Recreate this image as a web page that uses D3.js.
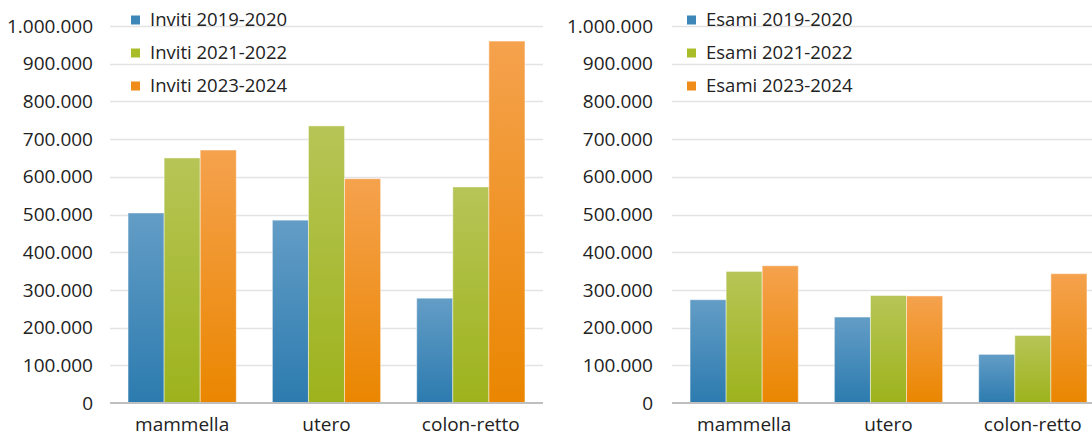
<!DOCTYPE html>
<html><head><meta charset="utf-8">
<script src="https://cdn.jsdelivr.net/npm/d3@7"></script>
<style>body{margin:0;background:#fff}svg{display:block}</style>
</head><body>
<svg id="c" width="1092" height="437"></svg>
<script>
const categories = ["mammella", "utero", "colon-retto"];
const yTicks = [0,100000,200000,300000,400000,500000,600000,700000,800000,900000,1000000];
const invitiSeries = ["Inviti 2019-2020", "Inviti 2021-2022", "Inviti 2023-2024"];
const inviti2019 = [504000, 485000, 278000];
const inviti2021 = [650000, 735000, 573000];
const inviti2023 = [671000, 595000, 960000];
const esamiSeries = ["Esami 2019-2020", "Esami 2021-2022", "Esami 2023-2024"];
const esami2019 = [274000, 228000, 129000];
const esami2021 = [349000, 285000, 179000];
const esami2023 = [364000, 284000, 343000];

const svg = d3.select("#c");
const FONT = "'Open Sans', sans-serif";
const grads = [["#639dc6","#2c7baf"],["#b6c556","#9db31c"],["#f5a24e","#ea8600"]];
const legendCols = ["#3d86b8","#a9bd2a","#f08c1a"];
const defs = svg.append("defs");
grads.forEach((g,i)=>{
  const lg = defs.append("linearGradient").attr("id","g"+i).attr("x1",0).attr("y1",0).attr("x2",0).attr("y2",1);
  lg.append("stop").attr("offset","0%").attr("stop-color",g[0]);
  lg.append("stop").attr("offset","100%").attr("stop-color",g[1]);
});
const fmt = v => v===0 ? "0" : d3.format(",")(v).replace(/,/g,".");

function chart(x0, x1, labelX, legendX, names, values){
  const y = d3.scaleLinear().domain([0,1000000]).range([403,26]);
  const x = d3.scaleBand().domain(categories).range([x0,x1]).paddingInner(0.25).paddingOuter(0.125);
  const xs = d3.scaleBand().domain([0,1,2]).range([0,x.bandwidth()]);
  const g = svg.append("g");
  g.selectAll(".grid").data(yTicks.filter(d=>d>0)).join("line")
    .attr("x1",x0).attr("x2",x1).attr("y1",d=>Math.round(y(d))+0.5).attr("y2",d=>Math.round(y(d))+0.5)
    .attr("stroke","#e3e3e3").attr("stroke-width",1.5);
  g.selectAll(".yl").data(yTicks).join("text")
    .attr("x",labelX).attr("y",d=>y(d)).attr("dy","0.35em").attr("text-anchor","end")
    .attr("font-family",FONT).attr("font-size",19).attr("fill","#222").text(fmt);
  values.forEach((vals,si)=>{
    g.selectAll(".b"+si).data(vals).join("rect")
      .attr("x",(d,i)=>x(categories[i])+xs(si)).attr("width",xs.bandwidth())
      .attr("y",d=>y(d)).attr("height",d=>y(0)-y(d))
      .attr("fill","url(#g"+si+")").attr("stroke","rgba(255,255,255,0.45)").attr("stroke-width",1);
  });
  g.append("line").attr("x1",x0).attr("x2",x1).attr("y1",403).attr("y2",403).attr("stroke","#bfbfbf").attr("stroke-width",2);
  g.selectAll(".xl").data(categories).join("text")
    .attr("x",d=>x(d)+x.bandwidth()/2).attr("y",431).attr("text-anchor","middle")
    .attr("font-family",FONT).attr("font-size",19).attr("fill","#222").text(d=>d);
  names.forEach((n,i)=>{
    const ly = 20 + i*33;
    g.append("rect").attr("x",legendX).attr("y",ly-4.5).attr("width",9).attr("height",9).attr("fill",legendCols[i]);
    g.append("text").attr("x",legendX+19).attr("y",ly).attr("dy","0.35em")
      .attr("font-family",FONT).attr("font-size",18.5).attr("fill","#222").text(n);
  });
}
chart(110, 543, 93, 131, invitiSeries, [inviti2019, inviti2021, inviti2023]);
chart(672, 1105, 653, 687, esamiSeries, [esami2019, esami2021, esami2023]);
</script>
</body></html>
